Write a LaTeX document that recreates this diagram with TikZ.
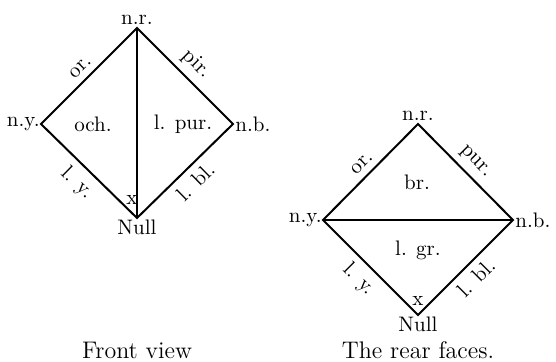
\documentclass[tikz,border=0pt]{standalone}
\begin{document}
\begin{tikzpicture}[x=0.5pt,y=-0.5pt,
  edge/.style={line width=1pt, line join=miter},
  vlab/.style={font=\fontsize{10.5}{12}\selectfont, inner sep=1.5pt},
  elab/.style={font=\fontsize{10.5}{12}\selectfont, inner sep=3.5pt, sloped},
  flab/.style={font=\fontsize{10.5}{12}\selectfont},
  caption/.style={font=\fontsize{12}{14}\selectfont}]
\useasboundingbox (0,0) rectangle (556,361);
% Front view
\coordinate (fT) at (137,28);
\coordinate (fL) at (41,124);
\coordinate (fR) at (233,124);
\coordinate (fB) at (137,218);
\draw[edge] (fL) -- (fT) -- (fR) -- (fB) -- cycle;
\draw[edge] (fT) -- (fB);
\node[vlab, anchor=south] (fTl) at (fT) {n.r.};
\node[vlab, anchor=east, inner sep=0.5pt] (fLl) at (fL) {n.y.};
\node[vlab, anchor=west, inner sep=1pt] (fRl) at (fR) {n.b.};
\node[vlab, anchor=north, inner sep=1pt] (fBl) at (fB) {Null};
\path (fL) -- node[elab, above] (e1) {or.} (fT);
\path (fT) -- node[elab, above] (e2) {pir.} (fR);
\path (fL) -- node[elab, below] (e3) {l. y.} (fB);
\path (fB) -- node[elab, below] (e4) {l. bl.} (fR);
\node[flab] (f1) at (93,124) {och.};
\node[flab] (f2) at (183,124) {l. pur.};
\node[flab] (x1) at (132,200) {x};
\node[caption] (c1) at (137,350) {Front view};
% Rear faces
\coordinate (rT) at (418,124);
\coordinate (rL) at (323,220);
\coordinate (rR) at (513,220);
\coordinate (rB) at (418,315);
\draw[edge] (rL) -- (rT) -- (rR) -- (rB) -- cycle;
\draw[edge] (rL) -- (rR);
\node[vlab, anchor=south] (rTl) at (rT) {n.r.};
\node[vlab, anchor=east, inner sep=0.5pt] (rLl) at (rL) {n.y.};
\node[vlab, anchor=west, inner sep=1pt] (rRl) at (rR) {n.b.};
\node[vlab, anchor=north, inner sep=1pt] (rBl) at (rB) {Null};
\path (rL) -- node[elab, above] (g1) {or.} (rT);
\path (rT) -- node[elab, above] (g2) {pur.} (rR);
\path (rL) -- node[elab, below] (g3) {l. y.} (rB);
\path (rB) -- node[elab, below] (g4) {l. bl.} (rR);
\node[flab] (h1) at (417,182) {br.};
\node[flab] (h2) at (418,250) {l. gr.};
\node[flab] (x2) at (418,301) {x};
\node[caption] (c2) at (418,350) {The rear faces.};
\end{tikzpicture}
\end{document}
